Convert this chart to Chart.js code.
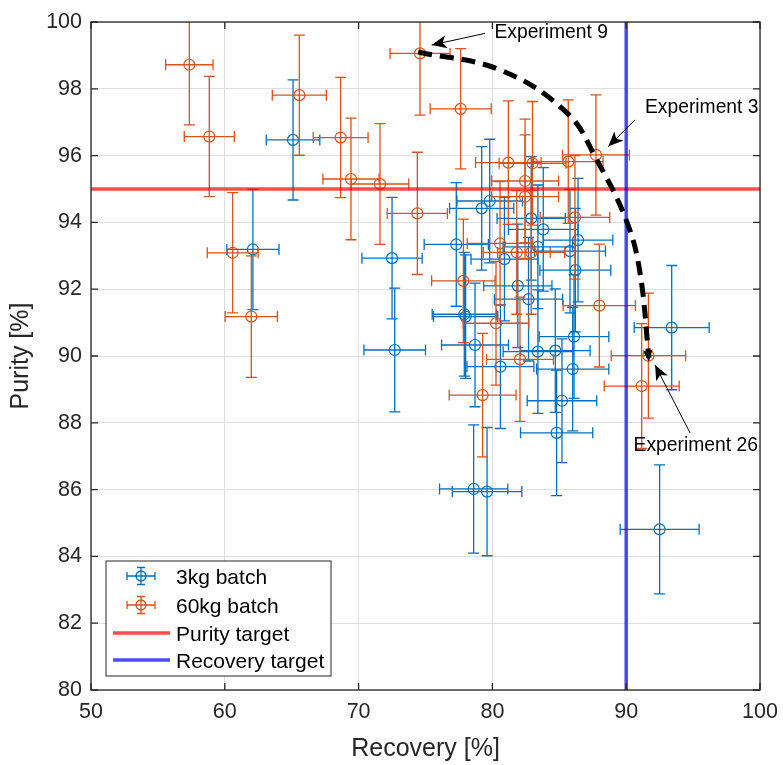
<!DOCTYPE html>
<html>
<head>
<meta charset="utf-8">
<script src="https://cdn.jsdelivr.net/npm/chart.js@4.4.1/dist/chart.umd.min.js"></script>
<style>
  html, body { margin: 0; padding: 0; background: #fff; }
  #wrap { width: 783px; height: 765px; position: relative; }
</style>
</head>
<body>
<div id="wrap"><canvas id="chart"></canvas></div>
<script>
// 3kg batch: recovery, purity and their errors
const smallX = [65.1, 62.1, 72.5, 72.7, 77.3, 79.2, 79.8, 82.9, 83.8, 83.4, 85.8, 86.4, 86.2, 80.9, 81.9,
                82.7, 77.9, 78.0, 78.7, 80.6, 83.4, 84.7, 86.1, 86.0, 85.2, 84.8, 78.6, 79.6, 93.4, 92.5];
const smallY = [96.47, 93.19, 92.93, 90.18, 93.34, 94.42, 94.64, 94.12, 93.79, 93.27, 93.14, 93.47, 92.57, 92.90, 92.10,
                91.70, 91.25, 91.18, 90.33, 89.68, 90.13, 90.16, 90.58, 89.61, 88.66, 87.70, 86.02, 85.94, 90.85, 84.81];
const smallXErr = [2.0, 1.95, 2.25, 2.3, 2.4, 2.4, 2.45, 2.55, 2.6, 2.6, 2.65, 2.6, 2.65, 2.5, 2.55,
                   2.55, 2.4, 2.4, 2.5, 2.5, 2.6, 2.6, 2.6, 2.7, 2.6, 2.7, 2.55, 2.6, 2.8, 2.95];
const smallYErr = [1.8, 1.8, 1.82, 1.85, 1.85, 1.85, 1.85, 1.85, 1.85, 1.85, 1.85, 1.85, 1.85, 1.85, 1.85,
                   1.85, 1.85, 1.85, 1.85, 1.85, 1.85, 1.85, 1.85, 1.85, 1.85, 1.88, 1.92, 1.92, 1.86, 1.93];

// 60kg batch
const bigX = [57.35, 58.84, 65.57, 60.59, 61.98, 74.59, 77.63, 68.66, 69.43, 71.6, 74.39, 81.19, 83.0, 85.67,
              87.74, 82.44, 82.44, 86.17, 80.57, 81.82, 82.9, 77.83, 80.27, 82.06, 79.27, 87.99, 91.66, 91.16];
const bigY = [98.72, 96.57, 97.81, 93.09, 91.18, 99.06, 97.40, 96.54, 95.30, 95.15, 94.27, 95.79, 95.77, 95.82,
              96.02, 95.24, 94.77, 94.15, 93.37, 93.10, 93.10, 92.25, 90.98, 89.90, 88.83, 91.51, 90.01, 89.10];
const bigXErr = [1.77, 1.87, 2.02, 1.9, 1.95, 2.24, 2.28, 2.05, 2.1, 2.15, 2.25, 2.45, 2.5, 2.6,
                 2.5, 2.5, 2.5, 2.6, 2.45, 2.5, 2.5, 2.37, 2.45, 2.5, 2.5, 2.7, 2.78, 2.8];
const bigYErr = [1.8, 1.8, 1.8, 1.8, 1.82, 1.85, 1.8, 1.8, 1.82, 1.81, 1.83, 1.85, 1.85, 1.85,
                 1.8, 1.85, 1.85, 1.85, 1.85, 1.85, 1.85, 1.85, 1.85, 1.86, 1.85, 1.84, 1.87, 1.87];

const purityTarget = 95;
const recoveryTarget = 90;

// dashed trend through experiments 9 -> 3 -> 26
const trendX = [74.45, 80.6, 85.6, 87.8, 90.0, 91.0, 91.7];
const trendY = [99.1, 98.56, 97.27, 95.87, 94.07, 92.57, 89.95];

// labelled experiments: text, label anchor, arrow tail, arrow tip
const notes = [
  { text: 'Experiment 9',  tx: 80.15, ty: 99.67, x1: 79.45, y1: 99.66, x2: 75.46, y2: 99.31 },
  { text: 'Experiment 3',  tx: 91.4, ty: 97.43, x1: 90.66, y1: 97.07, x2: 88.66, y2: 96.27 },
  { text: 'Experiment 26', tx: 90.55, ty: 87.31, x1: 94.78, y1: 87.69, x2: 92.16, y2: 89.73 }
];

const blue = '#0072BD';
const orange = '#D95319';
const axisColor = '#262626';
const fontFamily = '"Liberation Sans", Arial, Helvetica, sans-serif';

function toPoints(xs, ys) {
  return xs.map((x, i) => ({ x: x, y: ys[i] }));
}

function arrowHead(ctx, x1, y1, x2, y2, len, half) {
  const a = Math.atan2(y2 - y1, x2 - x1);
  const c = Math.cos(a), s = Math.sin(a);
  const bx = x2 - len * c, by = y2 - len * s;
  const nx = x2 - len * 0.75 * c, ny = y2 - len * 0.75 * s;
  ctx.beginPath();
  ctx.moveTo(x2, y2);
  ctx.lineTo(bx - s * half, by + c * half);
  ctx.lineTo(nx, ny);
  ctx.lineTo(bx + s * half, by - c * half);
  ctx.closePath();
  ctx.fill();
}

function errorBar(ctx, cx, cy, l, r, t, b, cap) {
  ctx.beginPath();
  ctx.moveTo(l, cy); ctx.lineTo(r, cy);
  ctx.moveTo(l, cy - cap); ctx.lineTo(l, cy + cap);
  ctx.moveTo(r, cy - cap); ctx.lineTo(r, cy + cap);
  ctx.moveTo(cx, t); ctx.lineTo(cx, b);
  ctx.moveTo(cx - cap, t); ctx.lineTo(cx + cap, t);
  ctx.moveTo(cx - cap, b); ctx.lineTo(cx + cap, b);
  ctx.stroke();
}

const errorBarPlugin = {
  id: 'errorBars',
  beforeDatasetDraw(chart, args) {
    const ds = chart.data.datasets[args.index];
    if (!ds.errX) return;
    const ctx = chart.ctx, xs = chart.scales.x, ys = chart.scales.y, area = chart.chartArea;
    ctx.save();
    ctx.beginPath();
    ctx.rect(area.left, area.top, area.right - area.left, area.bottom - area.top);
    ctx.clip();
    ctx.strokeStyle = ds.borderColor;
    ctx.lineWidth = 1.3;
    ds.data.forEach((p, i) => {
      errorBar(ctx, xs.getPixelForValue(p.x), ys.getPixelForValue(p.y),
        xs.getPixelForValue(p.x - ds.errX[i]), xs.getPixelForValue(p.x + ds.errX[i]),
        ys.getPixelForValue(p.y + ds.errY[i]), ys.getPixelForValue(p.y - ds.errY[i]), 5.5);
    });
    ctx.restore();
  }
};

const decorPlugin = {
  id: 'decor',
  afterDatasetsDraw(chart) {
    const ctx = chart.ctx, xs = chart.scales.x, ys = chart.scales.y;
    // head at the end of the dashed trend
    const n = trendX.length;
    ctx.save();
    ctx.fillStyle = '#000';
    arrowHead(ctx, xs.getPixelForValue(trendX[n - 2]), ys.getPixelForValue(trendY[n - 2]),
      xs.getPixelForValue(trendX[n - 1]), ys.getPixelForValue(trendY[n - 1]) + 4, 12, 5);
    // annotations
    ctx.strokeStyle = '#000';
    ctx.lineWidth = 1;
    ctx.font = '19.3px ' + fontFamily;
    ctx.textBaseline = 'middle';
    ctx.textAlign = 'left';
    notes.forEach(nt => {
      const x1 = xs.getPixelForValue(nt.x1), y1 = ys.getPixelForValue(nt.y1);
      const x2 = xs.getPixelForValue(nt.x2), y2 = ys.getPixelForValue(nt.y2);
      ctx.beginPath();
      ctx.moveTo(x1, y1);
      ctx.lineTo(x2, y2);
      ctx.stroke();
      arrowHead(ctx, x1, y1, x2, y2, 15, 6.5);
      ctx.fillText(nt.text, xs.getPixelForValue(nt.tx), ys.getPixelForValue(nt.ty));
    });
    ctx.restore();
  },
  afterDraw(chart) {
    const ctx = chart.ctx, a = chart.chartArea, xs = chart.scales.x, ys = chart.scales.y;
    ctx.save();
    // box and inward ticks
    ctx.strokeStyle = axisColor;
    ctx.lineWidth = 1.3;
    ctx.strokeRect(a.left, a.top, a.right - a.left, a.bottom - a.top);
    ctx.beginPath();
    xs.ticks.forEach(t => {
      const px = xs.getPixelForValue(t.value);
      ctx.moveTo(px, a.bottom); ctx.lineTo(px, a.bottom - 7);
      ctx.moveTo(px, a.top); ctx.lineTo(px, a.top + 7);
    });
    ys.ticks.forEach(t => {
      const py = ys.getPixelForValue(t.value);
      ctx.moveTo(a.left, py); ctx.lineTo(a.left + 7, py);
      ctx.moveTo(a.right, py); ctx.lineTo(a.right - 7, py);
    });
    ctx.stroke();

    // legend
    const lx = a.left + 15, ly = a.bottom - 129, lw = 225, lh = 115;
    ctx.fillStyle = '#fff';
    ctx.fillRect(lx, ly, lw, lh);
    ctx.strokeStyle = axisColor;
    ctx.lineWidth = 1;
    ctx.strokeRect(lx, ly, lw, lh);
    ctx.font = '21px ' + fontFamily;
    ctx.textBaseline = 'middle';
    ctx.textAlign = 'left';
    const rows = [15, 44, 72, 99];
    chart.data.datasets.slice(0, 4).forEach((ds, i) => {
      const cy = ly + rows[i];
      if (ds.errX) {
        const cx = lx + 35;
        ctx.strokeStyle = ds.borderColor;
        ctx.lineWidth = 1.3;
        errorBar(ctx, cx, cy, cx - 14, cx + 14, cy - 8.5, cy + 8.5, 4);
        ctx.beginPath();
        ctx.arc(cx, cy, 5, 0, Math.PI * 2);
        ctx.stroke();
      } else {
        ctx.strokeStyle = ds.borderColor;
        ctx.lineWidth = ds.borderWidth;
        ctx.beginPath();
        ctx.moveTo(lx + 7, cy);
        ctx.lineTo(lx + 64, cy);
        ctx.stroke();
      }
      ctx.fillStyle = '#000';
      ctx.fillText(ds.label, lx + 70, cy + 2);
    });
    ctx.restore();
  }
};

const ctx = document.getElementById('chart');
const chart = new Chart(ctx, {
  type: 'scatter',
  data: {
    datasets: [
      {
        label: '3kg batch',
        data: toPoints(smallX, smallY),
        errX: smallXErr,
        errY: smallYErr,
        borderColor: blue,
        backgroundColor: 'rgba(0,0,0,0)',
        pointRadius: 5.5,
        pointHoverRadius: 5.5,
        pointBorderWidth: 1.2,
        order: 4
      },
      {
        label: '60kg batch',
        data: toPoints(bigX, bigY),
        errX: bigXErr,
        errY: bigYErr,
        borderColor: orange,
        backgroundColor: 'rgba(0,0,0,0)',
        pointRadius: 5.5,
        pointHoverRadius: 5.5,
        pointBorderWidth: 1.2,
        order: 3
      },
      {
        label: 'Purity target',
        type: 'line',
        data: [{ x: 50, y: purityTarget }, { x: 100, y: purityTarget }],
        borderColor: 'rgba(255,0,0,0.7)',
        borderWidth: 3.5,
        pointRadius: 0,
        order: 2
      },
      {
        label: 'Recovery target',
        type: 'line',
        data: [{ x: recoveryTarget, y: 80 }, { x: recoveryTarget, y: 100 }],
        borderColor: 'rgba(0,0,255,0.7)',
        borderWidth: 3.5,
        pointRadius: 0,
        order: 1
      },
      {
        label: 'trend',
        type: 'line',
        data: toPoints(trendX, trendY),
        borderColor: '#000',
        borderWidth: 5,
        borderDash: [14, 8],
        tension: 0.4,
        pointRadius: 0,
        order: 0
      }
    ]
  },
  options: {
    responsive: true,
    maintainAspectRatio: false,
    animation: false,
    events: [],
    layout: { padding: { top: 22, right: 23, left: 0, bottom: 0 } },
    plugins: {
      legend: { display: false },
      tooltip: { enabled: false }
    },
    scales: {
      x: {
        type: 'linear',
        min: 50,
        max: 100,
        ticks: { stepSize: 10, color: axisColor, font: { size: 21.5, family: fontFamily }, padding: 9, maxRotation: 0 },
        grid: { color: '#dfdfdf', drawTicks: false },
        border: { display: false },
        title: { display: true, text: 'Recovery [%]', color: axisColor, font: { size: 25, family: fontFamily }, padding: { top: 0, bottom: 1 } },
        afterFit(scale) {
          scale.height = 75;
          scale.paddingLeft = 0;
          scale.paddingRight = 0;
        }
      },
      y: {
        type: 'linear',
        min: 80,
        max: 100,
        ticks: { stepSize: 2, color: axisColor, font: { size: 21.5, family: fontFamily }, padding: 9 },
        grid: { color: '#dfdfdf', drawTicks: false },
        border: { display: false },
        title: { display: true, text: 'Purity [%]', color: axisColor, font: { size: 25, family: fontFamily }, padding: { top: 6, bottom: 0 } },
        afterFit(scale) {
          scale.width = 91;
          scale.paddingTop = 0;
          scale.paddingBottom = 0;
        }
      }
    }
  },
  plugins: [errorBarPlugin, decorPlugin]
});
</script>
</body>
</html>
